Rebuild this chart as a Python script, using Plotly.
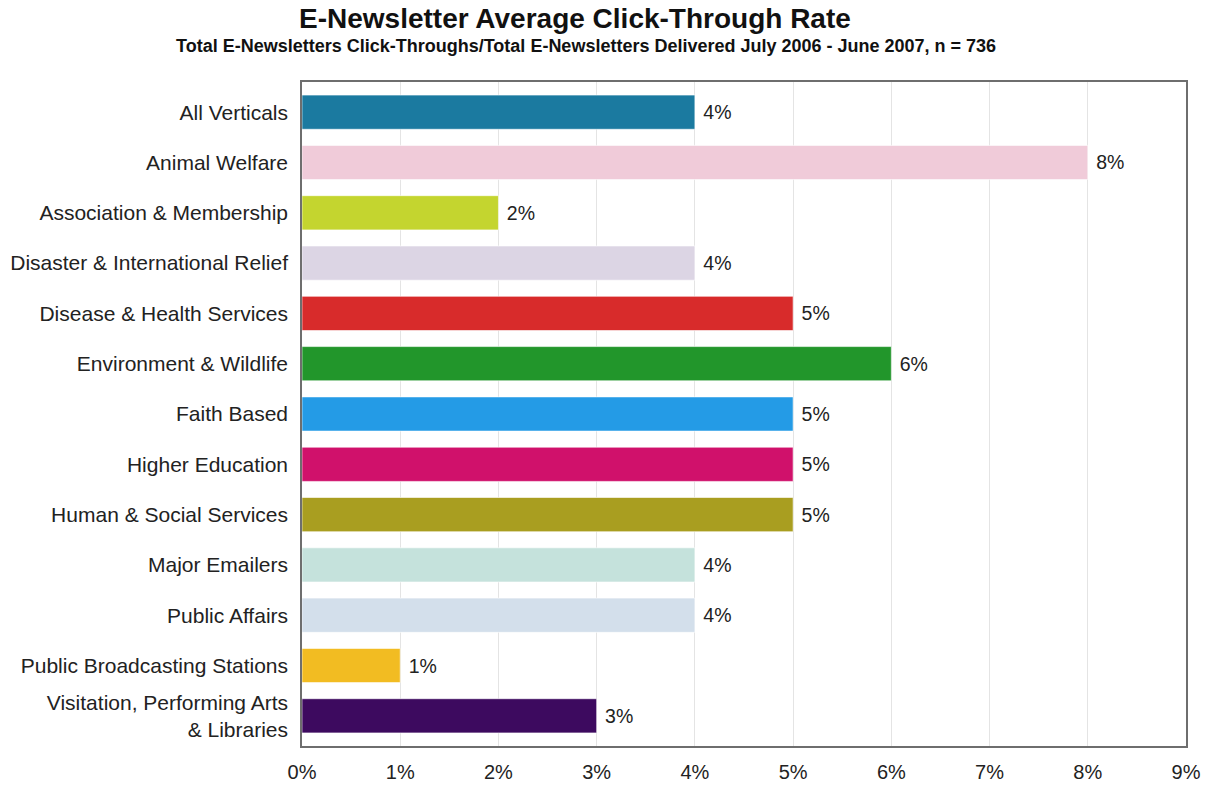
import plotly.graph_objects as go

categories = [
    "All Verticals",
    "Animal Welfare",
    "Association & Membership",
    "Disaster & International Relief",
    "Disease & Health Services",
    "Environment & Wildlife",
    "Faith Based",
    "Higher Education",
    "Human & Social Services",
    "Major Emailers",
    "Public Affairs",
    "Public Broadcasting Stations",
    "Visitation, Performing Arts<br>& Libraries",
]
values = [4, 8, 2, 4, 5, 6, 5, 5, 5, 4, 4, 1, 3]
value_labels = [f"\u00a0{v}%" for v in values]
colors = [
    "#1b7aa0", "#f0cbd9", "#c4d52f", "#dcd5e4", "#d82b2b", "#22962b",
    "#249be6", "#d0116b", "#a99e20", "#c5e2dc", "#d3dfeb", "#f2bc22", "#3d0a5f",
]
tick_vals = list(range(0, 10))
tick_text = [f"{t}%" for t in tick_vals]

W, H = 1211, 786
ML, MR, MT, MB = 302, 25, 82, 40
PW = W - ML - MR
PH = H - MT - MB


def px_x(x):
    return (x - ML) / PW


def px_y(y):
    return 1 + (MT - y) / PH


FONT = "Liberation Sans, Arial, sans-serif"

fig = go.Figure(
    go.Bar(
        x=values,
        y=categories,
        orientation="h",
        marker=dict(color=colors, line=dict(color="rgba(255,255,255,0.6)", width=1)),
        width=0.68,
        text=value_labels,
        textposition="outside",
        textfont=dict(size=19.5, color="#222222", family=FONT),
        cliponaxis=False,
        hoverinfo="skip",
    )
)

fig.update_layout(
    width=W,
    height=H,
    margin=dict(l=ML, r=MR, t=MT, b=MB, autoexpand=False),
    paper_bgcolor="white",
    plot_bgcolor="white",
    showlegend=False,
    font=dict(family=FONT, color="#222222"),
    annotations=[
        dict(text="<b>E-Newsletter Average Click-Through Rate</b>",
             x=px_x(575), y=px_y(19), xref="paper", yref="paper",
             xanchor="center", yanchor="middle", showarrow=False,
             font=dict(size=28, family=FONT, color="#111111")),
        dict(text="<b>Total E-Newsletters Click-Throughs/Total E-Newsletters Delivered July 2006 - June 2007, n = 736</b>",
             x=px_x(586), y=px_y(46), xref="paper", yref="paper",
             xanchor="center", yanchor="middle", showarrow=False,
             font=dict(size=18, family=FONT, color="#111111")),
    ],
)

fig.update_xaxes(
    range=[0, 9],
    tickvals=tick_vals,
    ticktext=tick_text,
    tickfont=dict(size=20, color="#222222"),
    showgrid=True,
    gridcolor="#e4e4e4",
    gridwidth=1,
    zeroline=False,
    showline=True,
    linecolor="#6e6e6e",
    linewidth=1.5,
    mirror=True,
    ticks="",
    ticklabelstandoff=7,
    automargin=False,
)
fig.update_yaxes(
    range=[12.6, -0.6],
    tickfont=dict(size=21, color="#222222"),
    showgrid=False,
    showline=True,
    linecolor="#6e6e6e",
    linewidth=1.5,
    mirror=True,
    ticks="",
    ticklabelstandoff=8,
    automargin=False,
)

fig.write_html("out.html")
